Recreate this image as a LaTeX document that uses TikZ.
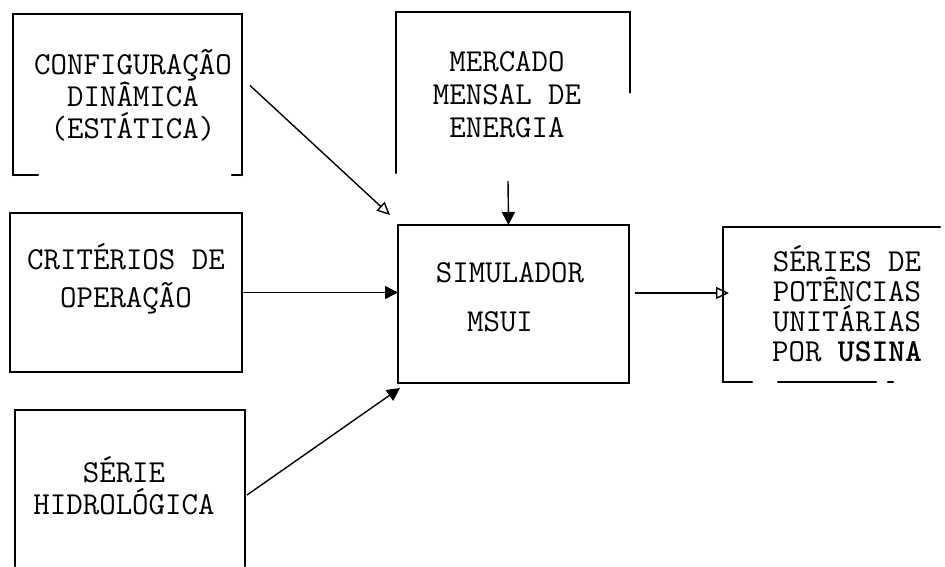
\documentclass[tikz,border=0pt]{standalone}
\usepackage{fontspec}
\usetikzlibrary{arrows.meta,calc}
\begin{document}
\begin{tikzpicture}[x=0.5pt,y=-0.5pt,
  box/.style={inner sep=0pt, outer sep=0pt, rectangle},
  edge/.style={line width=1.1pt, line cap=round},
  lbl/.style={font=\ttfamily\fontsize{16pt}{#1}\selectfont, align=center, inner sep=0pt},
  lbl/.default=16pt,
  arr/.style={line width=0.7pt},
  openhead/.style={-{Triangle[open, length=6.5pt, width=6pt]}},
  fillhead/.style={-{Triangle[length=6.5pt, width=6.5pt]}}]

\fill[white] (0,0) rectangle (945,566);
\useasboundingbox (0,0) rectangle (945,566);

% boxes (named, edges drawn below)
\node[box, minimum width=114.5pt, minimum height=80.5pt] (cfg) at (127.5,94.5) {};
\node[box, minimum width=117pt, minimum height=80.5pt] (mer) at (513,92.5) {};
\node[box, minimum width=116pt, minimum height=79.5pt] (cri) at (126,292.5) {};
\node[box, minimum width=115.5pt, minimum height=79pt] (sim) at (513.5,304) {};
\node[box, minimum width=108.5pt, minimum height=77.5pt] (pot) at (831.5,304.5) {};
\node[box, minimum width=115pt, minimum height=78pt] (ser) at (130,488) {};

% texts
\node[lbl=16pt] (cfgt) at (133,95) {CONFIGURAÇÃO\\DINÂMICA\\(ESTÁTICA)};
\node[lbl=16.5pt] (mert) at (507,95) {MERCADO\\MENSAL DE\\ENERGIA};
\node[lbl=19pt] (crit) at (126,279) {CRITÉRIOS DE\\OPERAÇÃO};
\node[lbl=24.5pt] (simt) at (510,297.5) {SIMULADOR\\MSUI\hspace*{10pt}};
\node[lbl=15pt] (pott) at (847,304) {SÉRIES DE\\POTÊNCIAS\\UNITÁRIAS\\POR \textbf{USINA}};
\node[lbl=16pt] (sert) at (124,486) {SÉRIE\\HIDROLÓGICA};

% box edges
\draw[edge] (cfg.south west) -- (cfg.north west) -- (cfg.north east) -- (cfg.south east);
\draw[edge] (cfg.south west) -- ++(25,0);
\draw[edge] (cfg.south east) -- ++(-10,0);
\draw[edge] (mer.south west) -- (mer.north west) -- (mer.north east) -- ($(mer.north east)!0.5!(mer.south east)$);
\draw[edge] (cri.south west) rectangle (cri.north east);
\draw[edge] (sim.south west) rectangle (sim.north east);
\draw[edge] (pot.north east) -- (pot.north west) -- (pot.south west) -- ++(29,0);
\draw[edge] ($(pot.south west)+(55,0)$) -- ++(98,0);
\draw[edge] ($(pot.south west)+(165,0)$) -- ++(5,0);
\draw[edge] (ser.south west) -- (ser.north west) -- (ser.north east) -- (ser.south east);

% connectors
\draw[arr, openhead] ([shift={(8,-9)}]cfg.east) -- ([shift={(-8,-10)}]sim.north west);
\draw[arr, fillhead] ([shift={(-5,8)}]mer.south) -- ([shift={(-5,0)}]sim.north);
\draw[arr, fillhead] (cri.east) -- (cri.east -| sim.west);
\draw[arr, openhead] ([shift={(6,-11)}]sim.east) -- ([shift={(6,-11)}]sim.east -| pot.west);
\draw[arr, fillhead] ([shift={(2,7)}]ser.east) -- ([shift={(2,5)}]sim.south west);
\end{tikzpicture}
\end{document}
